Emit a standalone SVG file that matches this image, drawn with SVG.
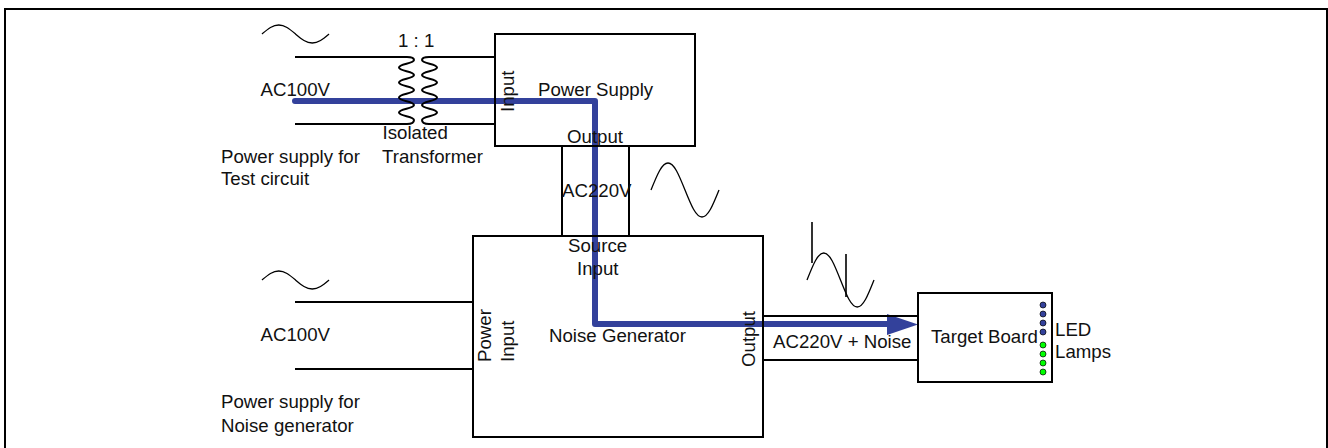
<svg xmlns="http://www.w3.org/2000/svg" width="1328" height="448" viewBox="0 0 1328 448">
<style>
.l{fill:none;stroke:#000;stroke-width:2}
.w{fill:none;stroke:#000;stroke-width:1.3}
.s{fill:none;stroke:#000;stroke-width:1.6}
text{font-family:"Liberation Sans",Arial,sans-serif;font-size:18.67px;fill:#111}
.b{fill:#33419b;stroke:#000;stroke-width:.7}
.g{fill:#00ff00;stroke:#000;stroke-width:.7}
</style>
<rect width="1328" height="448" fill="#fff"/>
<path id="frame" d="M5 448V9H1327V448" fill="none" stroke="#000" stroke-width="2"/>
<g id="signal-path">
<path d="M295 101H595V324H890" fill="none" stroke="#33419b" stroke-width="6" stroke-linecap="round" stroke-linejoin="round"/>
<path d="M887 314L918 324.500L887 335Z" fill="#33419b"/>
</g>
<g id="connectors">
<path class="l" d="M295 57H407C412 57 414 58 414 60C414 63.500 399 64 399 67.500C399 71 414 71.500 414 75C414 78.500 399 79 399 82.500C399 86 414 86.500 414 90C414 93.500 399 94 399 97.500C399 101 414 101.500 414 105C414 108.500 399 109 399 112.500C399 116 414 116.500 414 120C414 122.500 411 124 407 124H295"/>
<path class="l" d="M495 57H429C424 57 422 58 422 60C422 63.500 437 64 437 67.500C437 71 422 71.500 422 75C422 78.500 437 79 437 82.500C437 86 422 86.500 422 90C422 93.500 437 94 437 97.500C437 101 422 101.500 422 105C422 108.500 437 109 437 112.500C437 116 422 116.500 422 120C422 122.500 425 124 429 124H495"/>
<path class="l" d="M562 146V236M629 146V236"/>
<path class="l" d="M295 302H473M295 369H473"/>
<path class="l" d="M763 316H918M763 360H918"/>
</g>
<g id="waves">
<path class="w" d="M262 34c6.100 -5.100 10.700 -9 16.750 -9c6.050 0 10.650 3.900 16.750 9c6.100 5.100 10.700 9 16.750 9c6.050 0 10.650 -3.900 16.750 -9"/>
<path class="w" d="M262 280c6.100 -5.100 10.700 -9 16.750 -9c6.050 0 10.650 3.900 16.750 9c6.100 5.100 10.700 9 16.750 9c6.050 0 10.650 -3.900 16.750 -9"/>
<path class="w" d="M651 190c6.200 -15.400 10.900 -27 17 -27c6.100 0 10.800 11.600 17 27c6.200 15.400 10.900 27 17 27c6.100 0 10.800 -11.600 17 -27"/>
<path class="w" d="M807 280c6.100 -15.400 10.700 -27 16.750 -27c6.050 0 10.650 11.600 16.750 27c6.100 15.400 10.700 27 16.750 27c6.050 0 10.650 -11.600 16.750 -27"/>
<path class="s" d="M812 222V263M846 254V297"/>
</g>
<g id="power-supply">
<rect class="l" x="495" y="34" width="200" height="112"/>
<text x="538" y="96">Power Supply</text>
<text transform="translate(514 112) rotate(-90)">Input</text>
<text x="567" y="143">Output</text>
</g>
<g id="noise-generator">
<rect class="l" x="473" y="236" width="290" height="201"/>
<text x="549" y="342">Noise Generator</text>
<text x="568" y="252">Source</text>
<text x="577" y="275">Input</text>
<text transform="translate(491 362) rotate(-90)">Power</text>
<text transform="translate(514 362) rotate(-90)">Input</text>
<text transform="translate(755 367) rotate(-90)">Output</text>
</g>
<g id="target-board">
<rect class="l" x="918" y="293" width="134" height="89"/>
<text x="931" y="343">Target Board</text>
<circle class="b" cx="1043" cy="305" r="3"/>
<circle class="b" cx="1043" cy="314" r="3"/>
<circle class="b" cx="1043" cy="323" r="3"/>
<circle class="b" cx="1043" cy="332" r="3"/>
<circle class="g" cx="1043" cy="345" r="3"/>
<circle class="g" cx="1043" cy="354" r="3"/>
<circle class="g" cx="1043" cy="363" r="3"/>
<circle class="g" cx="1043" cy="372" r="3"/>
</g>
<g id="labels">
<text x="398" y="47">1 : 1</text>
<text x="260.500" y="96">AC100V</text>
<text x="382.500" y="139">Isolated</text>
<text x="382" y="163">Transformer</text>
<text x="221" y="163">Power supply for</text>
<text x="221" y="185">Test circuit</text>
<text x="562" y="197">AC220V</text>
<text x="260.500" y="341">AC100V</text>
<text x="221" y="408">Power supply for</text>
<text x="221" y="432">Noise generator</text>
<text x="773" y="348">AC220V + Noise</text>
<text x="1055" y="336">LED</text>
<text x="1055" y="358">Lamps</text>
</g>
</svg>
